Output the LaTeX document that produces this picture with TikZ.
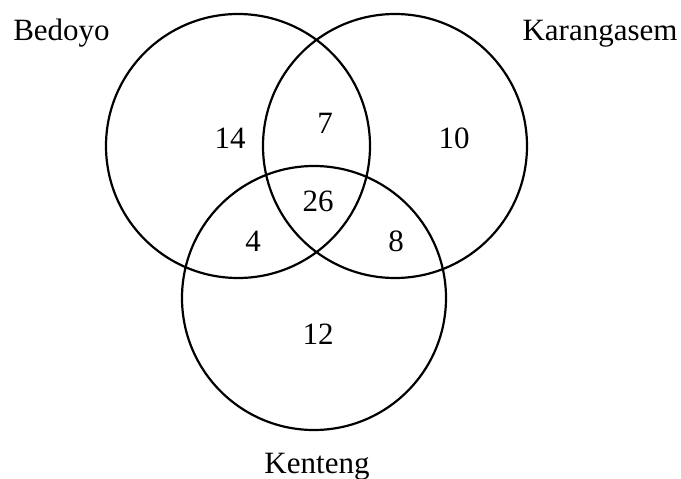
\documentclass[tikz,border=0pt]{standalone}
\usepackage{fontspec}
\setmainfont{Liberation Serif}
\begin{document}
\begin{tikzpicture}[x=1pt,y=-1pt,
  venn/.style={draw=black,line width=2.2pt,circle,minimum size=264pt,inner sep=0pt},
  lbl/.style={inner sep=0pt,anchor=base,font=\fontsize{31}{36}\selectfont}]
\useasboundingbox (0,0) rectangle (681,479);
\node[venn] (cb) at (238,146) {};
\node[venn] (ck) at (395,146) {};
\node[venn] (ct) at (314,298) {};
\node[lbl] (lb) at (61.5,40) {Bedoyo};
\node[lbl] (lk) at (600,40) {Karangasem};
\node[lbl] (lt) at (317,473) {Kenteng};
\node[lbl] (n14) at (230,148) {14};
\node[lbl] (n7) at (325,133) {7};
\node[lbl] (n10) at (454,148) {10};
\node[lbl] (n26) at (318,211) {26};
\node[lbl] (n4) at (253,251) {4};
\node[lbl] (n8) at (396,251) {8};
\node[lbl] (n12) at (318,344) {12};
\end{tikzpicture}
\end{document}
